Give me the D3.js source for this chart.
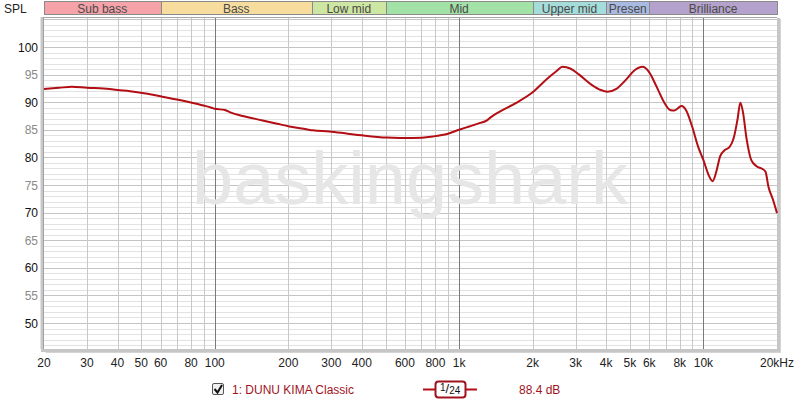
<!DOCTYPE html>
<html><head><meta charset="utf-8">
<script src="https://cdn.jsdelivr.net/npm/d3@7"></script>
<style>html,body{margin:0;padding:0;background:#fff;}svg{display:block;font-family:"Liberation Sans",Arial,sans-serif;}</style>
</head><body>
<svg id="c" width="800" height="403"></svg>
<script>
const freqs = [20,23,26,30,35,40,45,50,55,61,70,79,90,97,100,110,115,130,157,180,202,237,252,294,350,400,505,644,782,900,1000,1100,1210,1300,1350,1466,1700,2000,2300,2500,2650,2850,3100,3500,3800,4050,4400,4800,5200,5636,6000,6400,6900,7300,7600,8136,8500,9000,9500,10000,10500,10900,11300,11700,12200,12800,13300,13800,14150,14500,15000,15700,16500,17450,17950,18450,19200,20000];
const spl = [92.4,92.6,92.8,92.6,92.5,92.2,92.0,91.7,91.4,91.0,90.5,90.0,89.4,89.0,88.8,88.6,88.2,87.5,86.7,86.1,85.6,85.1,84.9,84.7,84.3,84.0,83.6,83.5,83.8,84.3,85.0,85.6,86.2,86.7,87.3,88.3,89.8,91.8,94.3,95.6,96.4,96.1,95.0,93.1,92.2,91.9,92.4,94.0,95.7,96.4,95.4,93.0,90.0,88.6,88.5,89.3,88.5,85.5,82.0,79.5,76.8,75.7,77.5,80.2,81.3,81.9,83.5,87.0,89.9,88.3,83.5,79.5,78.4,77.9,77.4,74.7,72.5,69.9];
const xTicks = [20,30,40,50,60,80,100,200,300,400,600,800,1000,2000,3000,4000,5000,6000,8000,10000,20000];
const xTickLabels = ["20","30","40","50","60","80","100","200","300","400","600","800","1k","2k","3k","4k","5k","6k","8k","10k","20kHz"];
const yTicks = [100,95,90,85,80,75,70,65,60,55,50];
const bandNames = ["Sub bass","Bass","Low mid","Mid","Upper mid","Presen","Brilliance"];
const bandEdges = [20,60,250,500,2000,4000,6000,20000];
const bandColors = ["#f5a2a8","#f6dd9e","#cde6a2","#a3e2a6","#a4dcd9","#a8b9e2","#b5a2cc"];
const seriesName = "1: DUNU KIMA Classic";
const seriesLevel = "88.4 dB";

const svg = d3.select("#c");
const L = 44, R = 777, T = 17, B = 349;
const x = d3.scaleLog().domain([20,20000]).range([L,R]);
const y = d3.scaleLinear().domain([50,100]).range([323,47]);
const dbTop = y.invert(T), dbBot = y.invert(B);

// plot background & shadow
svg.append("rect").attr("x",L+2).attr("y",T+2).attr("width",R-L+2).attr("height",B-T+2).attr("fill","#d4d4d4");
svg.append("rect").attr("x",L).attr("y",T).attr("width",R-L).attr("height",B-T).attr("fill","#fff");

const g = svg.append("g");
// horizontal grid
for (let v = Math.ceil(dbBot); v <= Math.floor(dbTop); v++) {
  const major = v % 5 === 0;
  g.append("line").attr("x1",L).attr("x2",R).attr("y1",Math.round(y(v))+0.5).attr("y2",Math.round(y(v))+0.5)
    .attr("stroke", major ? "#c4c4c4" : "#e2e2e2").attr("stroke-width",1);
}
// vertical grid
const vgrid = [];
for (let d = 10; d <= 10000; d *= 10) for (let m = 1; m <= 9; m++) { const f = d*m; if (f > 20 && f < 20000) vgrid.push(f); }
vgrid.forEach(f => {
  const dec = Math.abs(Math.log10(f) - Math.round(Math.log10(f))) < 1e-9;
  g.append("line").attr("y1",T).attr("y2",B).attr("x1",Math.round(x(f))+0.5).attr("x2",Math.round(x(f))+0.5)
    .attr("stroke", dec ? "#7a7a7a" : "#c8c8c8").attr("stroke-width",1);
});

// watermark
svg.append("text").attr("x",410).attr("y",204).attr("text-anchor","middle").attr("font-size",74)
  .attr("fill","#e6e6e6").text("baskingshark");

// frame
svg.append("line").attr("x1",L-2).attr("x2",L-2).attr("y1",T).attr("y2",B).attr("stroke","#c8c8c8").attr("stroke-width",3);
svg.append("line").attr("x1",L-0.5).attr("x2",R).attr("y1",T+0.5).attr("y2",T+0.5).attr("stroke","#a8a8a8");
svg.append("line").attr("x1",L-0.5).attr("x2",L-0.5).attr("y1",T).attr("y2",B).attr("stroke","#a0a0a0");
svg.append("line").attr("x1",R+1.5).attr("x2",R+1.5).attr("y1",T+1).attr("y2",B+2).attr("stroke","#c6c6c6").attr("stroke-width",3);
svg.append("line").attr("x1",L-3).attr("x2",R+3).attr("y1",B+1.5).attr("y2",B+1.5).attr("stroke","#c6c6c6").attr("stroke-width",3);

// curve
const pts = freqs.map((f,i) => [f, spl[i]]);
const line = d3.line().x(d => x(d[0])).y(d => y(d[1])).curve(d3.curveMonotoneX);
svg.append("path").attr("d", line(pts)).attr("fill","none").attr("stroke","#b20e14").attr("stroke-width",2).attr("stroke-linejoin","round");

// bands
const bands = svg.append("g");
bandNames.forEach((n,i) => {
  const x0 = x(bandEdges[i]), x1 = x(bandEdges[i+1]);
  bands.append("rect").attr("x",Math.round(x0)+0.5).attr("y",1.5).attr("width",Math.round(x1)-Math.round(x0)).attr("height",13)
    .attr("fill",bandColors[i]).attr("stroke","#8a8a8a").attr("stroke-width",1);
  bands.append("text").attr("x",(x0+x1)/2).attr("y",12.5).attr("text-anchor","middle").attr("font-size",12)
    .attr("fill","#4a4a4a").text(n);
});

// y axis labels
svg.append("text").attr("x",4).attr("y",13).attr("font-size",12).attr("fill","#222").text("SPL");
yTicks.forEach(v => {
  svg.append("text").attr("x",38).attr("y",y(v)+4.5).attr("text-anchor","end").attr("font-size",12)
    .attr("fill", v % 10 === 0 ? "#111" : "#8a8a8a").text(v);
});
// x axis labels
xTicks.forEach((f,i) => {
  svg.append("text").attr("x",x(f)).attr("y",367).attr("text-anchor","middle").attr("font-size",12)
    .attr("fill","#222").text(xTickLabels[i]);
});

// legend
const lg = svg.append("g");
lg.append("rect").attr("x",212.5).attr("y",383.5).attr("width",11).attr("height",11).attr("rx",1.5).attr("fill","#f0f0f0").attr("stroke","#555");
lg.append("path").attr("d","M214.5,389 L217.5,392.5 L222,385").attr("fill","none").attr("stroke","#111").attr("stroke-width",2);
lg.append("text").attr("x",232).attr("y",394).attr("font-size",12).attr("fill","#a0141e").text(seriesName);
lg.append("line").attr("x1",423).attr("x2",477).attr("y1",389.5).attr("y2",389.5).attr("stroke","#b20e14").attr("stroke-width",2);
lg.append("rect").attr("x",435.5).attr("y",381.5).attr("width",30).attr("height",16).attr("rx",3).attr("fill","#fff").attr("stroke","#a0141e").attr("stroke-width",2);
const frac = lg.append("text").attr("x",440).attr("y",391).attr("fill","#111").attr("font-size",10);
frac.append("tspan").text("1");
frac.append("tspan").attr("font-size",13).attr("dy",2).text("/");
frac.append("tspan").attr("font-size",10).attr("dy",1).text("24");
lg.append("text").attr("x",519).attr("y",394).attr("font-size",12).attr("fill","#a0141e").text(seriesLevel);
</script>
</body></html>
